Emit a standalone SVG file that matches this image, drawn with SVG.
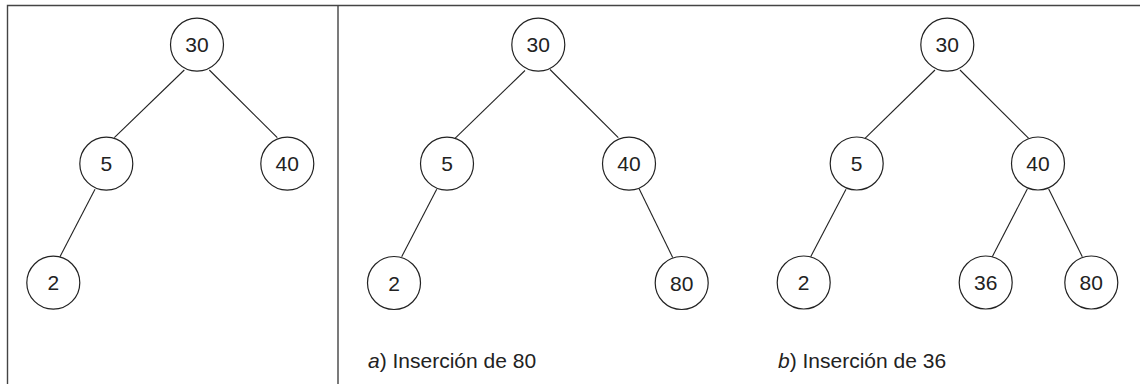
<svg xmlns="http://www.w3.org/2000/svg" width="1140" height="384" viewBox="0 0 1140 384">
<style>
.node circle{fill:#fff;stroke:#222;stroke-width:1.2}
.node text{font-family:"Liberation Sans",Arial,sans-serif;font-size:21px;fill:#222;text-anchor:middle}
.edges line{stroke:#222;stroke-width:1.1}
.frame{stroke:#444;stroke-width:1.4;fill:none}
.cap{font-family:"Liberation Sans",Arial,sans-serif;font-size:21px;fill:#222}
</style>
<rect width="1140" height="384" fill="#fff"/>
<path class="frame" d="M7.5,384 V5.5 H1140 M338,5.5 V384"/>
<g class="edges">
<line x1="184.3" y1="70" x2="114.3" y2="137.7"/>
<line x1="209.3" y1="70" x2="277.3" y2="137.7"/>
<line x1="95" y1="189.3" x2="60" y2="256.7"/>
<line x1="525" y1="70.5" x2="455" y2="138.3"/>
<line x1="550" y1="69.5" x2="618.3" y2="137.7"/>
<line x1="436.7" y1="189.3" x2="401.7" y2="256.7"/>
<line x1="639" y1="188.5" x2="672.7" y2="257.5"/>
<line x1="935" y1="70" x2="865" y2="138.3"/>
<line x1="960" y1="70" x2="1028.7" y2="138.3"/>
<line x1="846" y1="189.3" x2="810.7" y2="256.7"/>
<line x1="1027.3" y1="189" x2="992.3" y2="256.7"/>
<line x1="1048.7" y1="189" x2="1082.3" y2="256.7"/>
</g>
<g id="t0-30" class="node"><circle cx="197" cy="44.7" r="26.5"/><text x="197" y="52">30</text></g>
<g id="t0-5" class="node"><circle cx="106.3" cy="163.7" r="26.5"/><text x="106.3" y="171.2">5</text></g>
<g id="t0-40" class="node"><circle cx="287.3" cy="163.7" r="26.5"/><text x="287.3" y="171.2">40</text></g>
<g id="t0-2" class="node"><circle cx="53.3" cy="282.7" r="26.5"/><text x="53.3" y="290.2">2</text></g>
<g id="ta-30" class="node"><circle cx="538.3" cy="44.7" r="26.5"/><text x="538.3" y="52">30</text></g>
<g id="ta-5" class="node"><circle cx="447" cy="163.7" r="26.5"/><text x="447" y="171.2">5</text></g>
<g id="ta-40" class="node"><circle cx="629" cy="163.7" r="26.5"/><text x="629" y="171.2">40</text></g>
<g id="ta-2" class="node"><circle cx="394" cy="283" r="26.5"/><text x="394" y="290.5">2</text></g>
<g id="ta-80" class="node"><circle cx="681.7" cy="283" r="26.5"/><text x="681.7" y="290.5">80</text></g>
<g id="tb-30" class="node"><circle cx="947.3" cy="44.7" r="26.5"/><text x="947.3" y="52">30</text></g>
<g id="tb-5" class="node"><circle cx="856.7" cy="163.5" r="26.5"/><text x="856.7" y="171">5</text></g>
<g id="tb-40" class="node"><circle cx="1038" cy="163.5" r="26.5"/><text x="1038" y="171">40</text></g>
<g id="tb-2" class="node"><circle cx="803.7" cy="282.5" r="26.5"/><text x="803.7" y="290">2</text></g>
<g id="tb-36" class="node"><circle cx="985.7" cy="282.5" r="26.5"/><text x="985.7" y="290">36</text></g>
<g id="tb-80" class="node"><circle cx="1091.3" cy="282.5" r="26.5"/><text x="1091.3" y="290">80</text></g>
<text class="cap" x="368" y="368"><tspan font-style="italic">a</tspan>) Inserción de 80</text>
<text class="cap" x="778" y="368"><tspan font-style="italic">b</tspan>) Inserción de 36</text>
</svg>
